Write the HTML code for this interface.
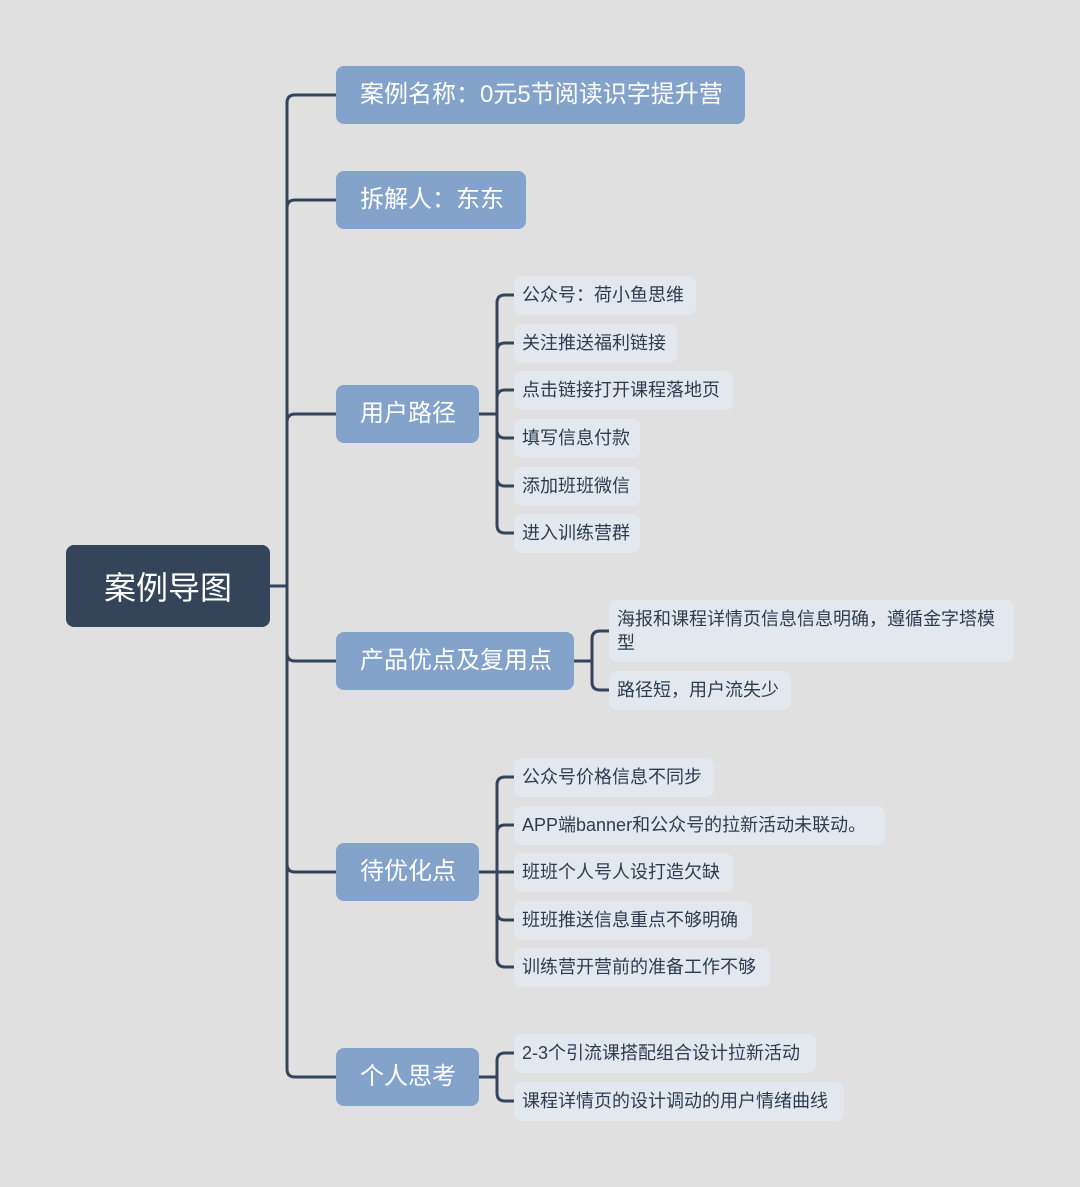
<!DOCTYPE html>
<html><head><meta charset="utf-8"><style>
body{margin:0;width:1080px;height:1187px;background:#e0e0e0;position:relative;overflow:hidden;font-family:"Liberation Sans","Noto Sans CJK SC",sans-serif}
.b{position:absolute;box-sizing:border-box;white-space:nowrap}
.r{background:#344459;color:#fff;font-size:32px;border-radius:8px;display:flex;align-items:center;justify-content:center}
.m{background:#84a3cb;color:#fff;font-size:24px;border-radius:8px;height:58px;line-height:58px;padding-left:24px}
.l{background:#e3e8ef;color:#2d3d50;font-size:18px;border-radius:8px;height:39px;line-height:39px;padding-left:8px}
svg{position:absolute;left:0;top:0}
</style></head><body>
<svg width="1080" height="1187" fill="none" stroke="#34445a" stroke-width="3">
<path d="M270 586H287"/>
<path d="M287 103V1069"/>
<path d="M287 103Q287 95 295 95H336"/>
<path d="M287 208Q287 200 295 200H336"/>
<path d="M287 422Q287 414 295 414H336"/>
<path d="M287 653Q287 661 295 661H336"/>
<path d="M287 864Q287 872 295 872H336"/>
<path d="M287 1069Q287 1077 295 1077H336"/>
<path d="M479 414H497"/>
<path d="M497 303V525"/>
<path d="M497 303Q497 295 505 295H514"/>
<path d="M497 351Q497 343 505 343H514"/>
<path d="M497 398Q497 390 505 390H514"/>
<path d="M497 430Q497 438 505 438H514"/>
<path d="M497 478Q497 486 505 486H514"/>
<path d="M497 525Q497 533 505 533H514"/>
<path d="M574 661H592"/>
<path d="M592 639V682"/>
<path d="M592 639Q592 631 600 631H609"/>
<path d="M592 682Q592 690 600 690H609"/>
<path d="M479 872H514"/>
<path d="M497 785V959"/>
<path d="M497 785Q497 777 505 777H514"/>
<path d="M497 833Q497 825 505 825H514"/>
<path d="M497 912Q497 920 505 920H514"/>
<path d="M497 959Q497 967 505 967H514"/>
<path d="M479 1077H497"/>
<path d="M497 1061V1093"/>
<path d="M497 1061Q497 1053 505 1053H514"/>
<path d="M497 1093Q497 1101 505 1101H514"/>
</svg>
<div class="b r" style="left:66px;top:545px;width:204px;height:82px">案例导图</div>
<div class="b m" style="left:336px;top:66px;width:409px">案例名称：0元5节阅读识字提升营</div>
<div class="b m" style="left:336px;top:171px;width:190px">拆解人：东东</div>
<div class="b m" style="left:336px;top:385px;width:143px">用户路径</div>
<div class="b m" style="left:336px;top:632px;width:238px">产品优点及复用点</div>
<div class="b m" style="left:336px;top:843px;width:143px">待优化点</div>
<div class="b m" style="left:336px;top:1048px;width:143px">个人思考</div>

<div class="b l" style="left:514px;top:276px;width:182px">公众号：荷小鱼思维</div>
<div class="b l" style="left:514px;top:324px;width:163px">关注推送福利链接</div>
<div class="b l" style="left:514px;top:371px;width:219px">点击链接打开课程落地页</div>
<div class="b l" style="left:514px;top:419px;width:126px">填写信息付款</div>
<div class="b l" style="left:514px;top:467px;width:126px">添加班班微信</div>
<div class="b l" style="left:514px;top:514px;width:126px">进入训练营群</div>

<div class="b l" style="left:609px;top:600px;width:405px;height:62px;line-height:24px;padding-top:7px">海报和课程详情页信息信息明确，遵循金字塔模<br>型</div>
<div class="b l" style="left:609px;top:671px;width:182px">路径短，用户流失少</div>

<div class="b l" style="left:514px;top:758px;width:200px">公众号价格信息不同步</div>
<div class="b l" style="left:514px;top:806px;width:371px">APP端banner和公众号的拉新活动未联动。</div>
<div class="b l" style="left:514px;top:853px;width:219px">班班个人号人设打造欠缺</div>
<div class="b l" style="left:514px;top:901px;width:238px">班班推送信息重点不够明确</div>
<div class="b l" style="left:514px;top:948px;width:256px">训练营开营前的准备工作不够</div>

<div class="b l" style="left:514px;top:1034px;width:302px">2-3个引流课搭配组合设计拉新活动</div>
<div class="b l" style="left:514px;top:1082px;width:330px">课程详情页的设计调动的用户情绪曲线</div>
</body></html>
